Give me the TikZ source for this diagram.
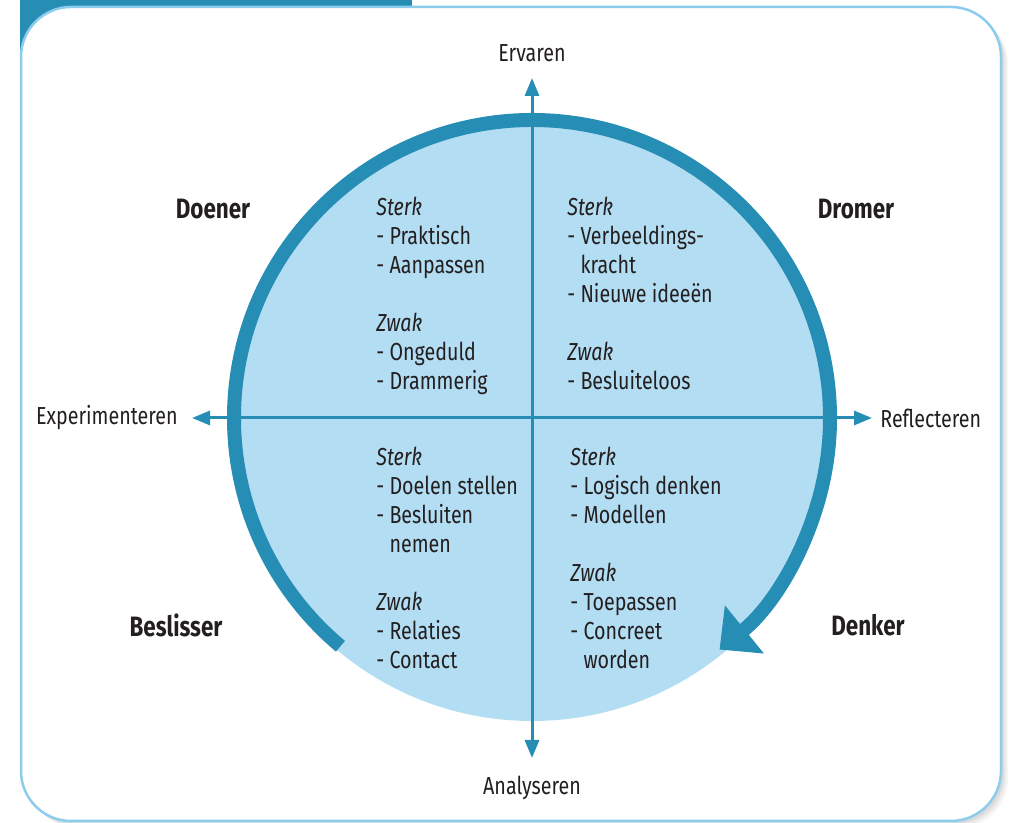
\documentclass[tikz,border=0pt]{standalone}
\usepackage{fontspec}
\setmainfont{Fira Sans}[FakeStretch=0.8]
\usetikzlibrary{arrows.meta,positioning}
\definecolor{ringblue}{RGB}{38,141,181}
\definecolor{discbg}{RGB}{179,221,242}
\definecolor{frameline}{RGB}{140,205,238}
\definecolor{inktext}{RGB}{35,31,32}
\newcommand{\hang}{\phantom{-~}}
\tikzset{
  lbl/.style={
    font=\fontsize{12.3}{14.5}\selectfont,
    text=inktext,
    inner sep=0pt
  },
  role/.style={
    lbl,
    font=\fontsize{14}{14.5}\selectfont\bfseries
  },
  quad/.style={
    lbl,
    align=left,
    anchor=base west
  },
  axis/.style={{Triangle[length=9pt,width=7pt]}-{Triangle[length=9pt,width=7pt]}, draw=ringblue, line width=1.5pt},
  ring/.style={-{Triangle[length=16pt,width=30pt]}, draw=ringblue, line width=7pt}
}

\begin{document}
\begin{tikzpicture}[x=0.5pt, y=0.5pt]
  \useasboundingbox (0,0) rectangle (1014,823);

  % frame with soft shadow and the tab at the top
  \foreach \d/\o in {7/0.04, 5/0.05, 3/0.06}
    \fill[black, opacity=\o, rounded corners=25pt] (21+\d,2-\d) rectangle (1001+\d,816-\d);
  \fill[ringblue] (20,823) rectangle (412,770);
  \filldraw[fill=white, draw=frameline, line width=1.25pt, rounded corners=25pt] (21,2) rectangle (1001,816);

  % disc, axes and cycle
  \coordinate (c) at (532,405);
  \coordinate (up) at (532,745);
  \coordinate (down) at (532,65);
  \coordinate (west) at (192,405);
  \coordinate (east) at (872,405);
  \fill[discbg] (c) circle[radius=303];
  \draw[axis] (down) -- (up);
  \draw[axis] (west) -- (east);
  \draw[ring] (c) ++(230:298) arc[start angle=230, end angle=-51, radius=298];

  \node[lbl, above=8pt of up] (ervaren) {Ervaren};
  \node[lbl, below=9pt of down] (analyseren) {Analyseren};
  \node[lbl, left=7pt of west] (experimenteren) {Experimenteren};
  \node[lbl, right=4pt of east] (reflecteren) {Reflecteren};

  \node[role] (doener) at (213,614) {Doener};
  \node[role] (dromer) at (856,614) {Dromer};
  \node[role] (beslisser) at (176,198) {Beslisser};
  \node[role] (denker) at (868,198) {Denker};

  % strong and weak points per quadrant (anchored on the last line)
  \node[quad] (doenerlist) at (376,433) {\textit{Sterk}\\- Praktisch\\- Aanpassen\\[14.5pt]
    \textit{Zwak}\\- Ongeduld\\- Drammerig};
  \node[quad] (dromerlist) at (567,433) {\textit{Sterk}\\- Verbeeldings-\\\hang kracht\\- Nieuwe ideeën\\[14.5pt]
    \textit{Zwak}\\- Besluiteloos};
  \node[quad] (beslisserlist) at (376,154) {\textit{Sterk}\\- Doelen stellen\\- Besluiten\\\hang nemen\\[14.5pt]
    \textit{Zwak}\\- Relaties\\- Contact};
  \node[quad] (denkerlist) at (570,154) {\textit{Sterk}\\- Logisch denken\\- Modellen\\[14.5pt]
    \textit{Zwak}\\- Toepassen\\- Concreet\\\hang worden};
\end{tikzpicture}
\end{document}
